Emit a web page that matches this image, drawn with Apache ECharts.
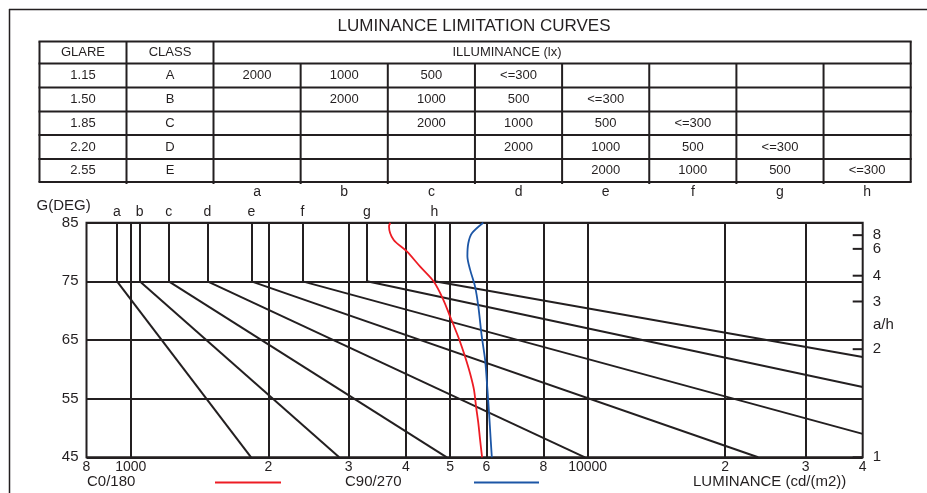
<!DOCTYPE html>
<html>
<head>
<meta charset="utf-8">
<script src="https://cdn.jsdelivr.net/npm/echarts@6/dist/echarts.min.js"></script>
<style>html,body{margin:0;padding:0;background:#fff}#c{width:927px;height:493px}</style>
</head>
<body>
<div id="c"></div>
<script>
// ---------------- data ----------------
const titleText = 'LUMINANCE LIMITATION CURVES';
const tableHeader = ['GLARE', 'CLASS', 'ILLUMINANCE (lx)'];
const glareValues = ['1.15', '1.50', '1.85', '2.20', '2.55'];
const classNames = ['A', 'B', 'C', 'D', 'E'];
const illumRows = [
  ['2000', '1000', '500', '<=300', '', '', '', ''],
  ['', '2000', '1000', '500', '<=300', '', '', ''],
  ['', '', '2000', '1000', '500', '<=300', '', ''],
  ['', '', '', '2000', '1000', '500', '<=300', ''],
  ['', '', '', '', '2000', '1000', '500', '<=300']
];
const curveLetters = ['a', 'b', 'c', 'd', 'e', 'f', 'g', 'h'];

// luminance (cd/m2) of each letter curve at G = 75..85 deg
const letterLum = [933, 1046, 1211, 1472, 1836, 2377, 3288, 4622];
// end point of the slanted part of each curve (from G = 75)
const slantEndLum = [1834, 2859, 4918, 9867, 23614, 40000, 40000, 40000];
const slantEndG = [45, 45, 45, 45, 45, 49.0, 57.0, 62.1];

// vertical grid values and x tick labels
const lumGrid = [1000, 2000, 3000, 4000, 5000, 6000, 8000, 10000, 20000, 30000];
const xTickValues = [800, 1000, 2000, 3000, 4000, 5000, 6000, 8000, 10000, 20000, 30000, 40000];
const xTickLabels = ['8', '1000', '2', '3', '4', '5', '6', '8', '10000', '2', '3', '4'];

// right hand a/h scale
const ahValues = [1, 2, 3, 4, 6, 8];

// measured luminance curves [L, G]
const curveC0 = [
  [3700, 85], [3675, 84.4], [3760, 82.1], [4020, 80.1], [4300, 77.5], [4600, 75],
  [4830, 71.9], [5000, 69], [5170, 66.2], [5240, 65], [5390, 62.2], [5530, 59.3],
  [5640, 56.5], [5700, 53.6], [5765, 50.8], [5815, 48], [5875, 45]
];
const curveC90 = [
  [5910, 85], [5580, 83.2], [5480, 81.5], [5455, 79.3], [5530, 77], [5670, 74.1],
  [5765, 70.7], [5865, 65.6], [5965, 61.6], [6035, 56.5], [6085, 52.5], [6135, 48], [6170, 45]
];

// ---------------- styling ----------------
const FONT = '"Liberation Sans", Arial, Helvetica, sans-serif';
const INK = '#231f20';
const RED = '#ed1c24';
const BLUE = '#1c56a6';
const G_MIN = 45, G_MAX = 85;

// ---------------- table graphic ----------------
const graphics = [];
function gLine(x1, y1, x2, y2, w) {
  graphics.push({ type: 'line', silent: true, shape: { x1, y1, x2, y2 },
    style: { stroke: INK, lineWidth: w || 2 } });
}
function gText(text, x, y, size, align) {
  graphics.push({ type: 'text', silent: true, x, y,
    style: { text, fill: INK, fontSize: size, fontFamily: FONT,
      align: align || 'center', verticalAlign: 'middle' } });
}

// page frame
gLine(9, 9.5, 927, 9.5, 1.5);
gLine(9.5, 9, 9.5, 493, 1.5);

gText(titleText, 474, 26, 17);

const tLeft = 39.5, tRight = 910.7;
const colX = [39.5, 126.5, 213.5];
const illumW = (tRight - 213.5) / 8;
for (let k = 1; k <= 8; k++) colX.push(213.5 + illumW * k);
const rowY = [41.5, 63.5, 87.5, 111.5, 135, 159, 182];
rowY.forEach(y => gLine(tLeft - 1, y, tRight + 1, y, 2));
gLine(colX[0], rowY[0], colX[0], rowY[6], 2);
gLine(colX[1], rowY[0], colX[1], rowY[6] + 2, 2);
gLine(colX[2], rowY[0], colX[2], rowY[6] + 2, 2);
gLine(tRight, rowY[0], tRight, rowY[6], 2);
for (let k = 3; k < colX.length - 1; k++) gLine(colX[k], rowY[1], colX[k], rowY[6] + 2, 2);

gText(tableHeader[0], (colX[0] + colX[1]) / 2, (rowY[0] + rowY[1]) / 2, 13);
gText(tableHeader[1], (colX[1] + colX[2]) / 2, (rowY[0] + rowY[1]) / 2, 13);
gText(tableHeader[2], 507, (rowY[0] + rowY[1]) / 2, 13);
for (let r = 0; r < 5; r++) {
  const cy = (rowY[r + 1] + rowY[r + 2]) / 2;
  gText(glareValues[r], (colX[0] + colX[1]) / 2, cy, 13);
  gText(classNames[r], (colX[1] + colX[2]) / 2, cy, 13);
  illumRows[r].forEach((t, c) => {
    if (t) gText(t, (colX[c + 2] + colX[c + 3]) / 2, cy, 13);
  });
}
curveLetters.forEach((t, c) => gText(t, (colX[c + 2] + colX[c + 3]) / 2, 192, 14));

// axis captions and legend
gText('G(DEG)', 36.5, 205.5, 15, 'left');
gText('a/h', 873, 325, 15, 'left');
gText('C0/180', 87, 482, 15, 'left');
graphics.push({ type: 'line', silent: true, shape: { x1: 215, y1: 482.5, x2: 281, y2: 482.5 },
  style: { stroke: RED, lineWidth: 2 } });
gText('C90/270', 345, 482, 15, 'left');
graphics.push({ type: 'line', silent: true, shape: { x1: 474, y1: 482.5, x2: 539, y2: 482.5 },
  style: { stroke: BLUE, lineWidth: 2 } });
gText('LUMINANCE (cd/(m2))', 693, 482, 15, 'left');

// ---------------- series ----------------
const lineStyleInk = { color: INK, width: 2, opacity: 1 };
const hidden = { color: 'rgba(0,0,0,0)', opacity: 1 };
const series = [
  {
    name: 'gridV', type: 'lines', coordinateSystem: 'cartesian2d', silent: true, clip: false,
    lineStyle: lineStyleInk, z: 2,
    data: lumGrid.map(v => ({ coords: [[v, G_MIN], [v, G_MAX]] }))
  },
  {
    name: 'letterV', type: 'lines', coordinateSystem: 'cartesian2d', silent: true, clip: false,
    lineStyle: lineStyleInk, z: 2,
    data: letterLum.map(v => ({ coords: [[v, 75], [v, G_MAX]] }))
  },
  {
    name: 'slant', type: 'lines', coordinateSystem: 'cartesian2d', silent: true, clip: false,
    lineStyle: lineStyleInk, z: 2,
    data: letterLum.map((v, i) => ({ coords: [[v, 75], [slantEndLum[i], slantEndG[i]]] }))
  },
  {
    name: 'C0/180', type: 'line', data: curveC0, smooth: 0.3, symbol: 'none', clip: false,
    lineStyle: { color: RED, width: 1.8 }, itemStyle: { color: RED }, z: 4
  },
  {
    name: 'C90/270', type: 'line', data: curveC90, smooth: 0.3, symbol: 'none', clip: false,
    lineStyle: { color: BLUE, width: 1.8 }, itemStyle: { color: BLUE }, z: 4
  },
  {
    name: 'letters', type: 'scatter', silent: true, clip: false, symbolSize: 1,
    itemStyle: hidden,
    data: letterLum.map(v => [v, G_MAX]),
    label: { show: true, position: 'top', distance: 3, color: INK, fontSize: 14, fontFamily: FONT,
      formatter: p => curveLetters[p.dataIndex] }
  },
  {
    name: 'xLabels', type: 'scatter', silent: true, clip: false, symbolSize: 1,
    itemStyle: hidden,
    data: xTickValues.map(v => [v, G_MIN]),
    label: { show: true, position: 'bottom', distance: 2, color: INK, fontSize: 14, fontFamily: FONT,
      formatter: p => xTickLabels[p.dataIndex] }
  },
  {
    name: 'ahScale', type: 'scatter', silent: true, clip: false,
    symbol: 'rect', symbolSize: [10, 2], symbolOffset: [-5, 0],
    itemStyle: { color: INK, opacity: 1 },
    data: ahValues.map(k => [40000, Math.atan(k) * 180 / Math.PI]),
    label: { show: true, position: 'right', distance: 10, color: INK, fontSize: 15, fontFamily: FONT,
      formatter: p => String(ahValues[p.dataIndex]) },
    z: 5
  }
];

const option = {
  animation: false,
  backgroundColor: '#fff',
  textStyle: { fontFamily: FONT },
  graphic: graphics,
  grid: {
    left: 86.5, top: 222.7, width: 776.2, height: 234.6,
    show: true, borderColor: INK, borderWidth: 2, backgroundColor: 'transparent',
    containLabel: false, outerBoundsMode: 'none'
  },
  xAxis: {
    type: 'log', logBase: 10, min: 800, max: 40000,
    axisLine: { show: false }, axisTick: { show: false }, axisLabel: { show: false },
    splitLine: { show: false }
  },
  yAxis: {
    type: 'value', min: G_MIN, max: G_MAX, interval: 10,
    axisLine: { show: false }, axisTick: { show: false },
    axisLabel: { color: INK, fontSize: 15, fontFamily: FONT, margin: 8 },
    splitLine: { show: true, lineStyle: { color: INK, width: 2 } }
  },
  series
};

const chart = echarts.init(document.getElementById('c'));
chart.setOption(option);
</script>
</body>
</html>
